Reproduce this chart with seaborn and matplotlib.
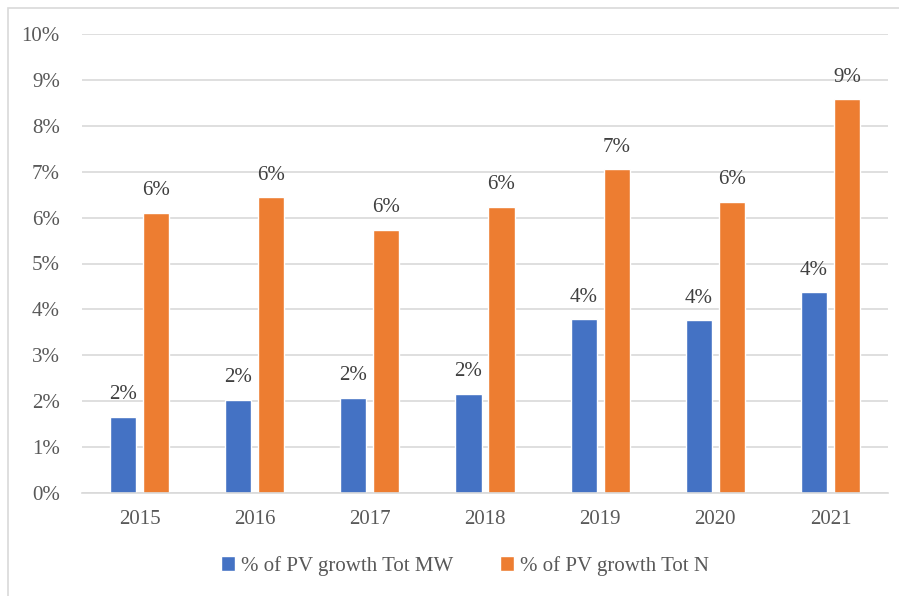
import matplotlib
matplotlib.use("Agg")
import matplotlib.pyplot as plt
from matplotlib.patches import Rectangle
from matplotlib.ticker import FuncFormatter, MultipleLocator
import seaborn as sns
import pandas as pd

years = ["2015", "2016", "2017", "2018", "2019", "2020", "2021"]
growth_mw = [1.66, 2.03, 2.07, 2.16, 3.78, 3.76, 4.37]
growth_n = [6.11, 6.44, 5.74, 6.24, 7.05, 6.35, 8.58]
series_names = ["% of PV growth Tot MW", "% of PV growth Tot N"]

df = pd.DataFrame({
    "year": years * 2,
    "value": growth_mw + growth_n,
    "series": [series_names[0]] * len(years) + [series_names[1]] * len(years),
})

sns.set_theme(style="white")
plt.rcParams["font.family"] = ["Liberation Serif", "DejaVu Serif"]

text_color = "#595959"
grid_color = "#d9d9d9"

fig = plt.figure(figsize=(8.99, 5.96), dpi=100)
ax = fig.add_axes([82 / 899, 1 - 493 / 596, 806 / 899, (493 - 34) / 596])

sns.barplot(
    data=df, x="year", y="value", hue="series",
    order=years, hue_order=series_names,
    palette=["#4472C4", "#ED7D31"],
    width=0.574, gap=0.21, saturation=1.0,
    ax=ax, legend=True,
)

ax.set_ylim(0, 10)
ax.yaxis.set_major_locator(MultipleLocator(1))
ax.yaxis.set_major_formatter(FuncFormatter(lambda v, _: f"{v:.0f}%"))
ax.grid(axis="y", color=grid_color, linewidth=1.2)
ax.set_axisbelow(True)
for side in ["top", "right", "left"]:
    ax.spines[side].set_visible(False)
ax.spines["bottom"].set_color(grid_color)
ax.spines["bottom"].set_linewidth(1.2)
ax.set_xlabel("")
ax.set_ylabel("")
ax.tick_params(axis="both", length=0, labelsize=15, colors=text_color)
ax.tick_params(axis="x", pad=12)
ax.tick_params(axis="y", pad=16)

for container in ax.containers:
    labels = [f"{round(b.get_height())}%" for b in container]
    ax.bar_label(container, labels=labels, padding=9, fontsize=15, color="#404040")

handles, labs = ax.get_legend_handles_labels()
ax.legend_.remove()
fig.legend(
    handles, labs, loc="center", bbox_to_anchor=(465 / 899, 1 - 566 / 596),
    ncol=2, frameon=False, fontsize=15, labelcolor=text_color,
    handlelength=0.7, handleheight=0.7, handletextpad=0.3, columnspacing=2.2,
)

# light outer frame of the chart area
fig.patches.append(Rectangle(
    (8 / 899, -0.1), 1.2, 1 - 8 / 596 + 0.1, transform=fig.transFigure,
    fill=False, edgecolor=grid_color, linewidth=1.2, zorder=0,
))

fig.savefig("out.png", dpi=100)
